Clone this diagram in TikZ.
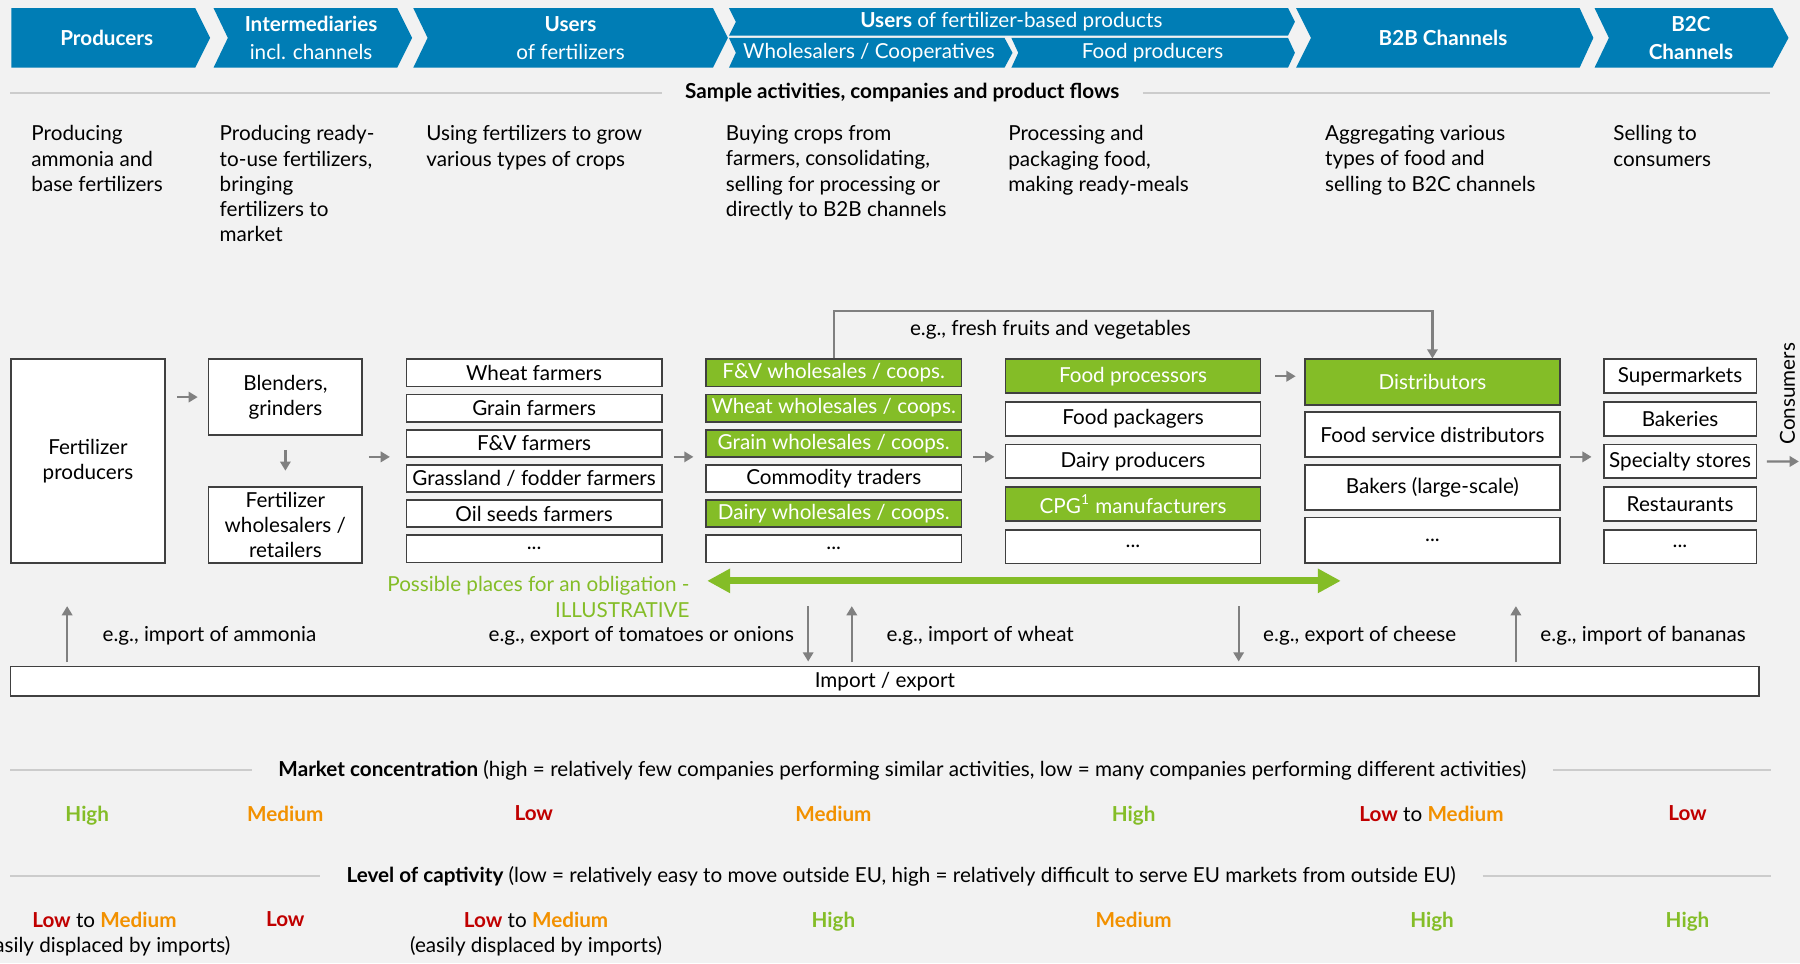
\documentclass[tikz,border=0pt]{standalone}
\usepackage{fontspec}
\setmainfont{Lato}
\usetikzlibrary{arrows.meta}
\definecolor{banner}{RGB}{0,125,181}
\definecolor{okgreen}{RGB}{132,189,39}
\definecolor{midorange}{RGB}{242,145,0}
\definecolor{lowred}{RGB}{192,0,0}
\definecolor{paper}{RGB}{242,242,242}
\definecolor{rulegray}{RGB}{204,204,204}
\definecolor{flowgray}{RGB}{128,128,128}
\definecolor{boxline}{RGB}{64,64,64}
\newcommand{\chevron}[6]{\fill[banner] (#1,#3) -- ({#2-#6},#3) -- (#2,{(#3+#4)/2}) -- ({#2-#6},#4) -- (#1,#4) -- ({#1+#5},{(#3+#4)/2}) -- cycle;}
\newcommand{\actorcolumn}[6]{
    \foreach \lbl/\sty [count=\i] in {#6}{
    \node[\sty, minimum width={(#3-#2)*0.5pt}, minimum height={#4*0.5pt}] (#1\i) at ({(#2+#3)/2},{313+#4/2+(\i-1)*#5}) {\lbl};
    }
}
\newcommand{\etcdots}{...}
\newcommand{\rhigh}{\textcolor{okgreen}{\textbf{High}}}
\newcommand{\rmedium}{\textcolor{midorange}{\textbf{Medium}}}
\newcommand{\rlow}{\textcolor{lowred}{\textbf{Low}}}

\begin{document}
\begin{tikzpicture}[x=0.5pt, y=-0.5pt, font=\fontsize{9}{11}\selectfont,
    actor/.style={draw=boxline, fill=white, line width=0.75pt, inner sep=0.5pt, align=center},
    actorg/.style={actor, fill=okgreen, text=white},
    flow/.style={draw=flowgray, line width=1pt, -{Triangle[length=4pt, width=4.5pt]}},
    rule/.style={draw=rulegray, line width=1pt},
    bannertext/.style={text=white, align=center, font=\fontsize{9}{12}\selectfont},
    note/.style={anchor=north west, align=left, inner sep=0pt},
    lbl/.style={inner sep=0pt},
    obligation/.style={draw=okgreen, line width=3pt, {Triangle[length=10pt, width=10pt]}-{Triangle[length=10pt, width=10pt]}}]
\useasboundingbox (0,0) rectangle (1568,839);
\fill[paper] (0,0) rectangle (1568,839);
% value chain banner
\chevron{10}{183}{7}{59}{0}{13}
\chevron{186}{359}{7}{59}{12.5}{13}
\chevron{360}{634}{7}{59}{12.5}{13}
\chevron{635}{1128}{7}{31}{6}{6}
\chevron{635}{882}{33}{59}{6}{7}
\chevron{881}{1128}{33}{59}{6}{6}
\chevron{1129}{1388}{7}{59}{13}{12}
\chevron{1389}{1558}{7}{59}{12.5}{14}
\node[bannertext] (producers) at (93,33) {\textbf{Producers}};
\node[bannertext] (intermed) at (271,33) {\textbf{Intermediaries}\\incl. channels};
\node[bannertext] (users) at (497,33) {\textbf{Users}\\of fertilizers};
\node[bannertext] (userprod) at (881,19) {\textbf{Users} of fertilizer-based products};
\node[bannertext] (wholesalers) at (757,46) {Wholesalers / Cooperatives};
\node[bannertext] (foodprod) at (1004,46) {Food producers};
\node[bannertext] (b2b) at (1257,33) {\textbf{B2B Channels}};
\node[bannertext] (b2c) at (1473,33) {\textbf{B2C}\\\textbf{Channels}};
% activities
\node[lbl] (sample) at (786,81) {\textbf{Sample activities, companies and product flows}};
\draw[rule] (9,81) -- ([xshift=-10pt]sample.west);
\draw[rule] ([xshift=10pt]sample.east) -- (1542,81);
\node[note] (act1) at (27,109) {Producing\\ammonia and\\base fertilizers};
\node[note] (act2) at (191,109) {Producing ready-\\to-use fertilizers,\\bringing\\fertilizers to\\market};
\node[note] (act3) at (371,109) {Using fertilizers to grow\\various types of crops};
\node[note] (act4) at (632,109) {Buying crops from\\farmers, consolidating,\\selling for processing or\\directly to B2B channels};
\node[note] (act5) at (878,109) {Processing and\\packaging food,\\making ready-meals};
\node[note] (act6) at (1154,109) {Aggregating various\\types of food and\\selling to B2C channels};
\node[note] (act7) at (1405,109) {Selling to\\consumers};
% companies
\node[actor, minimum width=67.3pt, minimum height=88.7pt] (fert) at (76.6,401.7) {Fertilizer\\producers};
\node[actor, minimum width=67pt, minimum height=32.9pt] (blend) at (248.6,345.9) {Blenders,\\grinders};
\node[actor, minimum width=67pt, minimum height=33pt, inner sep=0pt] (fwhole) at (248.6,457.4) {Fertilizer\\wholesalers /\\retailers};
\actorcolumn{farm}{354}{576.5}{23.7}{30.65}{Wheat farmers/actor, Grain farmers/actor, F\&V farmers/actor, {Grassland / fodder farmers}/actor, Oil seeds farmers/actor, \etcdots/actor}
\actorcolumn{whole}{615}{837.5}{23.7}{30.65}{{F\&V wholesales / coops.}/actorg, {Wheat wholesales / coops.}/actorg, {Grain wholesales / coops.}/actorg, Commodity traders/actor, {Dairy wholesales / coops.}/actorg, \etcdots/actor}
\actorcolumn{food}{876}{1098}{29.5}{37.1}{Food processors/actorg, Food packagers/actor, Dairy producers/actor, CPG\textsuperscript{1} manufacturers/actorg, \etcdots/actor}
\actorcolumn{dist}{1137}{1358.6}{39.5}{45.9}{Distributors/actorg, Food service distributors/actor, Bakers (large-scale)/actor, \etcdots/actor}
\actorcolumn{ret}{1397}{1530}{29.5}{37.1}{Supermarkets/actor, Bakeries/actor, Specialty stores/actor, Restaurants/actor, \etcdots/actor}
\node[rotate=90] (consumers) at (1557,343) {Consumers};
% product flows
\coordinate (flowline) at (0,398);
\coordinate (bypass) at (0,271);
\coordinate (consumersin) at (1567,402);
\draw[flow, shorten <=4.8pt, shorten >=4.3pt] (fert.east |- blend.west) -- (blend.west);
\draw[flow, shorten <=6.2pt, shorten >=6.8pt] (blend.south) -- (fwhole.north);
\draw[flow, shorten <=2.5pt, shorten >=6.8pt] (blend.east |- flowline) -- (farm1.west |- flowline);
\draw[flow, shorten <=4.8pt, shorten >=5.1pt] (farm1.east |- flowline) -- (whole1.west |- flowline);
\draw[flow, shorten <=4.7pt, shorten >=4.5pt] (whole1.east |- flowline) -- (food1.west |- flowline);
\draw[flow, shorten <=6pt, shorten >=3.8pt] (food1.east) -- (food1.east -| dist1.west);
\draw[flow, shorten <=4.2pt, shorten >=4.9pt] (dist1.east |- flowline) -- (ret1.west |- flowline);
\draw[flow, shorten <=4.2pt] (ret3.east) -- (consumersin);
\draw[flow] (whole1.north) -- (whole1.north |- bypass) -| (dist1.north);
\node[lbl] (freshlbl) at (915,287) {e.g., fresh fruits and vegetables};
% obligation
\coordinate (oblleft) at (616,506);
\coordinate (oblright) at (1168,506);
\draw[obligation] (oblleft) -- (oblright);
\node[note, anchor=north east, align=right, text=okgreen] (obltext) at (601,502) {Possible places for an obligation -\\ILLUSTRATIVE};
% import / export
\node[actor, minimum width=761.7pt, minimum height=13pt] (trade) at (770.8,593.6) {Import / export};
\coordinate (ammonia) at (58.5,528);
\coordinate (tomato) at (704,528);
\coordinate (wheat) at (742,528);
\coordinate (cheese) at (1079,528);
\coordinate (banana) at (1320.5,528);
\draw[flow, shorten <=1.5pt] (trade.north -| ammonia) -- (ammonia);
\draw[flow, shorten >=1.8pt] (tomato) -- (trade.north -| tomato);
\draw[flow, shorten <=1.5pt] (trade.north -| wheat) -- (wheat);
\draw[flow, shorten >=1.8pt] (cheese) -- (trade.north -| cheese);
\draw[flow, shorten <=1.5pt] (trade.north -| banana) -- (banana);
\node[lbl, anchor=west] (ammonialbl) at (89,554) {e.g., import of ammonia};
\node[lbl, anchor=east] (tomatolbl) at (692,554) {e.g., export of tomatoes or onions};
\node[lbl, anchor=west] (wheatlbl) at (772,554) {e.g., import of wheat};
\node[lbl, anchor=west] (cheeselbl) at (1100,554) {e.g., export of cheese};
\node[lbl, anchor=west] (bananalbl) at (1341.5,554) {e.g., import of bananas};
% market concentration
\coordinate (rulestart) at (9,0);
\coordinate (ruleend) at (1542.5,0);
\node[lbl] (mcon) at (786,671) {\textbf{Market concentration} (high = relatively few companies performing similar activities, low = many companies performing different activities)};
\draw[rule] (mcon.west -| rulestart) -- ([xshift=-11.5pt]mcon.west);
\draw[rule] ([xshift=11.5pt]mcon.east) -- (mcon.east -| ruleend);
\foreach \x/\r [count=\i] in {76/\rhigh, 248.5/\rmedium, 465/\rlow, 726/\rmedium, 987.5/\rhigh, 1247/{\rlow{} to \rmedium}, 1470/\rlow}
    \node[lbl, anchor=north] (conc\i) at (\x,701.5) {\r};
% captivity
\node[lbl] (capt) at (785,763) {\textbf{Level of captivity} (low = relatively easy to move outside EU, high = relatively difficult to serve EU markets from outside EU)};
\draw[rule] (capt.west -| rulestart) -- ([xshift=-11.5pt]capt.west);
\draw[rule] ([xshift=11.5pt]capt.east) -- (capt.east -| ruleend);
\foreach \x/\r [count=\i] in {91/{\rlow{} to \rmedium\\(easily displaced by imports)}, 248.5/\rlow, 467/{\rlow{} to \rmedium\\(easily displaced by imports)}, 726/\rhigh, 987.5/\rmedium, 1247.5/\rhigh, 1470/\rhigh}
    \node[lbl, anchor=north, align=center] (capt\i) at (\x,794) {\r};
\end{tikzpicture}
\end{document}
